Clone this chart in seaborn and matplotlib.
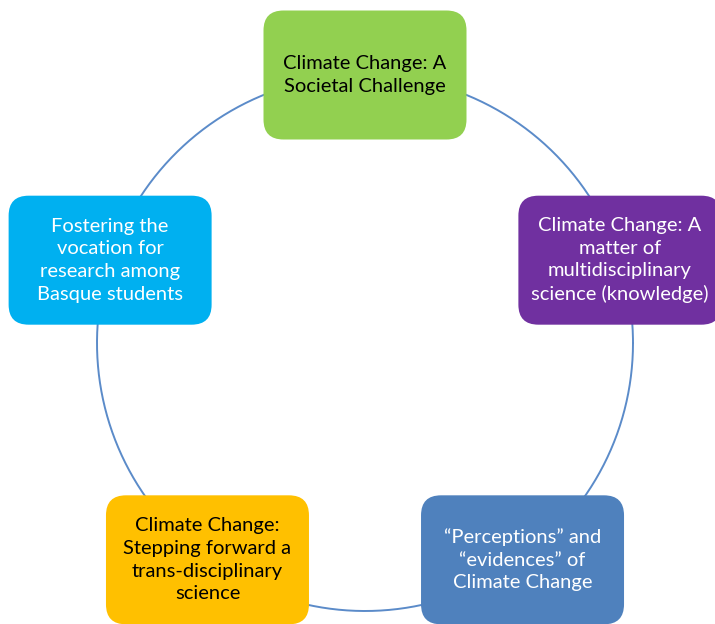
import numpy as np
import pandas as pd
import seaborn as sns
import matplotlib.pyplot as plt
from matplotlib.patches import FancyBboxPatch

# cycle steps, clockwise from the top
labels = [
    "Climate Change: A\nSocietal Challenge",
    "Climate Change: A\nmatter of\nmultidisciplinary\nscience (knowledge)",
    "\u201cPerceptions\u201d and\n\u201cevidences\u201d of\nClimate Change",
    "Climate Change:\nStepping forward a\ntrans-disciplinary\nscience",
    "Fostering the\nvocation for\nresearch among\nBasque students",
]
box_colors = ["#92D050", "#7030A0", "#4F81BD", "#FFC000", "#00B0F0"]
text_colors = ["black", "white", "white", "black", "white"]

sns.set_theme(style="white")
plt.rcParams['font.family'] = ['Lato', 'DejaVu Sans']

W, H = 715, 624
cx, cy, r = 365, 343, 268
bw, bh = 203, 129

fig = plt.figure(figsize=(W / 100, H / 100), dpi=100)
ax = fig.add_axes([0, 0, 1, 1])
ax.set_xlim(0, W)
ax.set_ylim(H, 0)
ax.set_aspect("equal")
ax.axis("off")

# connecting ring
t = np.linspace(0, 2 * np.pi, 400)
ring = pd.DataFrame({"x": cx + r * np.cos(t), "y": cy + r * np.sin(t)})
sns.lineplot(data=ring, x="x", y="y", sort=False, estimator=None, ax=ax,
             color="#5B8BC9", linewidth=1.4)

angles = np.deg2rad(90 - 72 * np.arange(len(labels)))
for lab, col, tc, a in zip(labels, box_colors, text_colors, angles):
    x = cx + r * np.cos(a)
    y = cy - r * np.sin(a)
    box = FancyBboxPatch((x - bw / 2, y - bh / 2), bw, bh,
                         boxstyle="round,pad=0,rounding_size=20",
                         facecolor=col, edgecolor="none", zorder=3)
    ax.add_patch(box)
    ax.text(x, y, lab, ha="center", va="center", color=tc, fontsize=14.5,
            linespacing=1.4, zorder=4)

fig.savefig("out.png", dpi=100)
